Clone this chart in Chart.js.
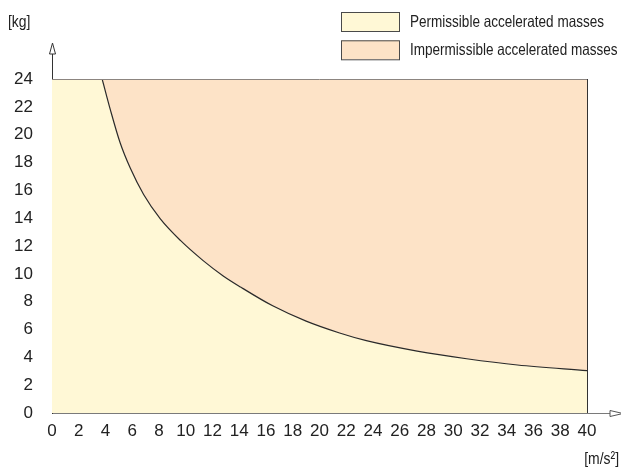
<!DOCTYPE html>
<html>
<head>
<meta charset="utf-8">
<script src="https://cdn.jsdelivr.net/npm/chart.js@4.4.1/dist/chart.umd.min.js"></script>
<style>
  html, body { margin: 0; padding: 0; background: #fff; }
  #wrap { position: relative; width: 621px; height: 474px; }
</style>
</head>
<body>
<div id="wrap"><canvas id="chartMassas"></canvas></div>
<script>
// limit curve: acceleration [m/s²] -> max. accelerated mass [kg]
const accel   = [3.75, 4.36, 5.1, 5.85, 6.85, 8.1, 9.6, 11.3, 12.8, 14.1, 16.5, 19, 21.5, 23.5, 27.3, 31, 34.8, 40];
const maxMass = [24, 21.8, 19.4, 17.6, 15.7, 13.95, 12.4, 10.95, 9.85, 9.05, 7.7, 6.6, 5.75, 5.2, 4.45, 3.9, 3.45, 3.05];

const xMax = 40;
const yMax = 24;
const tickStep = 2;

const seriesLabels = ['Permissible accelerated masses', 'Impermissible accelerated masses'];
const seriesColors = ['#fff8d6', '#fde3c7'];
const unitX = '[m/s²]';
const unitY = '[kg]';

const FONT = "'Liberation Sans', Arial, sans-serif";
const TEXT = '#222';

const curve = accel.map((x, i) => ({ x: x, y: maxMass[i] }));

// narrow text: draw squeezed horizontally
function narrowText(ctx, txt, x, y, align) {
    const sx = 0.82;
    ctx.save();
    ctx.translate(x, y);
    ctx.scale(sx, 1);
    ctx.textAlign = align;
    ctx.fillText(txt, 0, 0);
    ctx.restore();
}

// frame, axis arrows, unit labels and legend
const decor = {
    id: 'decor',
    afterDraw(chart) {
        const ctx = chart.ctx;
        const a = chart.chartArea;
        ctx.save();
        ctx.lineWidth = 1;

        // top and right edge of the box
        ctx.strokeStyle = '#8c8580';
        ctx.beginPath();
        ctx.moveTo(a.left, a.top + 0.5);
        ctx.lineTo(a.right, a.top + 0.5);
        ctx.stroke();
        ctx.strokeStyle = '#333';
        ctx.beginPath();
        ctx.moveTo(a.right + 0.5, a.top);
        ctx.lineTo(a.right + 0.5, a.bottom);
        ctx.stroke();

        // y arrow
        const yx = a.left + 0.5;
        ctx.beginPath();
        ctx.moveTo(yx, a.top);
        ctx.lineTo(yx, a.top - 26);
        ctx.stroke();
        ctx.fillStyle = '#fff';
        ctx.beginPath();
        ctx.moveTo(yx, a.top - 36);
        ctx.lineTo(yx - 3, a.top - 25);
        ctx.lineTo(yx + 3, a.top - 25);
        ctx.closePath();
        ctx.fill();
        ctx.stroke();

        // x arrow
        const xy = a.bottom + 0.5;
        ctx.strokeStyle = '#7a7a7a';
        ctx.beginPath();
        ctx.moveTo(a.right, xy);
        ctx.lineTo(a.right + 23, xy);
        ctx.stroke();
        ctx.strokeStyle = '#555';
        ctx.beginPath();
        ctx.moveTo(a.right + 23, xy - 3);
        ctx.lineTo(a.right + 36, xy);
        ctx.lineTo(a.right + 23, xy + 3);
        ctx.closePath();
        ctx.fill();
        ctx.stroke();

        // units
        ctx.fillStyle = TEXT;
        ctx.font = '17px ' + FONT;
        ctx.textBaseline = 'middle';
        narrowText(ctx, unitY, 8, 22, 'left');
        narrowText(ctx, unitX, 619, 459, 'right');

        // legend
        ctx.font = '16.5px ' + FONT;
        chart.data.datasets.forEach((ds, i) => {
            const top = 12 + i * 28.3;
            ctx.fillStyle = ds.backgroundColor;
            ctx.fillRect(341, top, 58, 19);
            ctx.strokeStyle = '#4a4a4a';
            ctx.strokeRect(341.5, top + 0.5, 58, 19);
            ctx.fillStyle = TEXT;
            narrowText(ctx, ds.label, 410, top + 10.5, 'left');
        });

        ctx.restore();
    }
};

new Chart(document.getElementById('chartMassas'), {
    type: 'line',
    data: {
        datasets: [{
            label: seriesLabels[0],
            data: [{ x: 0, y: yMax }].concat(curve),
            backgroundColor: seriesColors[0],
            borderWidth: 0,
            pointRadius: 0,
            cubicInterpolationMode: 'monotone',
            fill: 'origin',
            order: 2
        }, {
            label: seriesLabels[1],
            data: curve,
            backgroundColor: seriesColors[1],
            borderColor: '#2a2a2a',
            borderWidth: 1.2,
            pointRadius: 0,
            cubicInterpolationMode: 'monotone',
            fill: 'end',
            order: 1
        }]
    },
    options: {
        responsive: true,
        maintainAspectRatio: false,
        animation: false,
        layout: {
            padding: { top: 79, right: 34, left: 0, bottom: 0 }
        },
        plugins: {
            legend: { display: false },
            tooltip: { enabled: false }
        },
        scales: {
            x: {
                type: 'linear',
                min: 0,
                max: xMax,
                afterFit: s => { s.height = 61; },
                grid: { drawOnChartArea: false, drawTicks: false },
                border: { color: '#7a7a7a', width: 1 },
                ticks: {
                    stepSize: tickStep,
                    autoSkip: false,
                    maxRotation: 0,
                    padding: 8,
                    color: TEXT,
                    font: { family: FONT, size: 17 }
                }
            },
            y: {
                min: 0,
                max: yMax,
                afterFit: s => { s.width = 52; },
                grid: { drawOnChartArea: false, drawTicks: false },
                border: { color: '#333', width: 1 },
                ticks: {
                    stepSize: tickStep,
                    padding: 19,
                    color: TEXT,
                    font: { family: FONT, size: 17 }
                }
            }
        }
    },
    plugins: [decor]
});
</script>
</body>
</html>
